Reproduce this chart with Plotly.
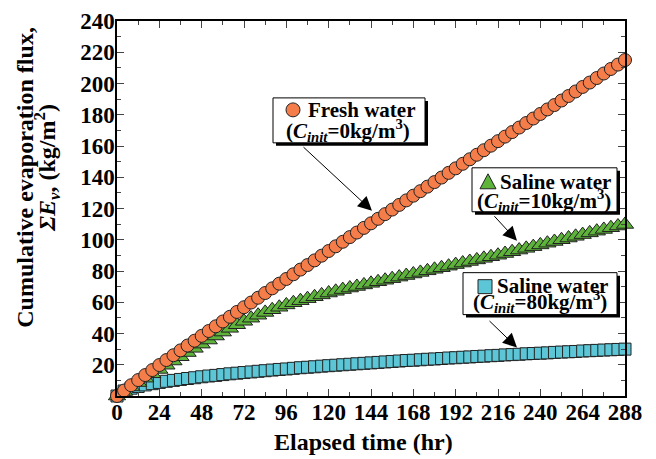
import plotly.graph_objects as go

# ---------------- data ----------------
time_hr = list(range(0, 289, 4))

fresh_water = [0, 3.5, 6.9, 10.2, 13.4, 16.6, 19.8, 23.0, 26.1, 29.2, 32.3, 35.4, 38.5,
               41.6, 44.6, 47.7, 50.7, 53.8, 56.8, 59.8, 62.9, 65.9, 68.9, 71.9, 74.9,
               77.9, 80.9, 83.8, 86.8, 89.8, 92.8, 95.8, 98.7, 101.7, 104.6, 107.6, 110.5,
               113.4, 116.4, 119.3, 122.3, 125.2, 128.2, 131.1, 134.0, 136.9, 139.8, 142.8, 145.7,
               148.6, 151.5, 154.4, 157.3, 160.2, 163.1, 166.0, 168.9, 171.8, 174.7, 177.6, 180.5,
               183.4, 186.2, 189.1, 192.0, 194.9, 197.8, 200.6, 203.5, 206.4, 209.3, 212.1, 215.0]

saline_10 = [0, 2.9, 5.8, 8.6, 11.4, 14.2, 17.0, 19.7, 22.4, 25.1, 27.8, 30.5, 33.2,
             35.8, 38.4, 40.9, 43.3, 45.6, 47.8, 49.8, 51.7, 53.5, 55.2, 56.8, 58.3,
             59.7, 61.0, 62.3, 63.5, 64.7, 65.9, 67.0, 68.1, 69.1, 70.1, 71.1, 72.1,
             73.1, 74.1, 75.1, 76.1, 77.1, 78.1, 79.1, 80.1, 81.1, 82.1, 83.1, 84.1,
             85.1, 86.1, 87.1, 88.1, 89.1, 90.1, 91.2, 92.3, 93.4, 94.5, 95.6, 96.7,
             97.8, 98.9, 100.0, 101.1, 102.2, 103.3, 104.4, 105.5, 106.6, 107.7, 108.8, 109.8]

saline_80 = [0, 3.2, 5.0, 6.1, 7.1, 7.9, 8.7, 9.4, 10.0, 10.6, 11.2, 11.7, 12.3,
             12.8, 13.2, 13.7, 14.2, 14.6, 15.0, 15.4, 15.8, 16.2, 16.6, 17.0, 17.3,
             17.7, 18.1, 18.4, 18.7, 19.1, 19.4, 19.7, 20.0, 20.3, 20.6, 20.9, 21.2,
             21.5, 21.8, 22.1, 22.4, 22.7, 22.9, 23.2, 23.5, 23.7, 24.0, 24.3, 24.5,
             24.8, 25.0, 25.3, 25.5, 25.8, 26.0, 26.3, 26.5, 26.7, 27.0, 27.2, 27.4,
             27.6, 27.9, 28.1, 28.3, 28.5, 28.8, 29.0, 29.2, 29.4, 29.6, 29.8, 30.0]

x_ticks = list(range(0, 289, 24))
y_ticks = list(range(20, 241, 20))

labels = [
    ("Fresh water", "(<i>C<sub>init</sub></i>=0kg/m<sup>3</sup>)"),
    ("Saline water", "(<i>C<sub>init</sub></i>=10kg/m<sup>3</sup>)"),
    ("Saline water", "(<i>C<sub>init</sub></i>=80kg/m<sup>3</sup>)"),
]

# ---------------- layout geometry (screen pixels) ----------------
OFF = 8                      # page body margin
W, H = 656 - OFF, 459 - OFF
L, R, T, B = 117, 625, 21, 396.5
XMAX, YMAX = 288, 240


def px2x(px):
    return (px - L) / (R - L) * XMAX


def py2y(py):
    return (B - py) / (B - T) * YMAX


def px2p(px):
    return (px - L) / (R - L)


def py2p(py):
    return (B - py) / (B - T)


ORANGE = "#F47D4A"
GREEN = "#5EB33A"
CYAN = "#5CC6D6"
EDGE = "#222222"
FONT = "Liberation Serif"

fig = go.Figure()
fig.add_trace(go.Scatter(x=time_hr, y=saline_80, mode="markers", cliponaxis=False,
                         marker=dict(symbol="square", size=12, color=CYAN,
                                     line=dict(color=EDGE, width=1))))
fig.add_trace(go.Scatter(x=time_hr, y=saline_10, mode="markers", cliponaxis=False,
                         marker=dict(symbol="triangle-up", size=15, color=GREEN,
                                     line=dict(color=EDGE, width=1))))
fig.add_trace(go.Scatter(x=time_hr, y=fresh_water, mode="markers", cliponaxis=False,
                         marker=dict(symbol="circle", size=13, color=ORANGE,
                                     line=dict(color=EDGE, width=1))))

shapes = []
annotations = []

# boxes: (x0, y0, x1, y1) pixels
boxes = [(273, 98, 425, 143), (472, 168, 617, 212), (463, 273, 617, 315)]
for (x0, y0, x1, y1) in boxes:
    shapes.append(dict(type="rect", xref="x", yref="y", layer="above",
                       x0=px2x(x0 + 3), x1=px2x(x1 + 3), y0=py2y(y0 + 3), y1=py2y(y1 + 3),
                       fillcolor="black", line=dict(width=0)))
    shapes.append(dict(type="rect", xref="x", yref="y", layer="above",
                       x0=px2x(x0), x1=px2x(x1), y0=py2y(y0), y1=py2y(y1),
                       fillcolor="white", line=dict(color="black", width=1)))

# legend glyphs
cx, cy, r = 293, 110, 7
shapes.append(dict(type="circle", xref="x", yref="y", layer="above",
                   x0=px2x(cx - r), x1=px2x(cx + r), y0=py2y(cy + r), y1=py2y(cy - r),
                   fillcolor=ORANGE, line=dict(color=EDGE, width=1)))
tx, ty = 488, 182
shapes.append(dict(type="path", xref="x", yref="y", layer="above",
                   path=f"M {px2x(tx-8)} {py2y(ty+7)} L {px2x(tx+8)} {py2y(ty+7)} L {px2x(tx)} {py2y(ty-8)} Z",
                   fillcolor=GREEN, line=dict(color=EDGE, width=1)))
sx, sy, s = 485, 287, 7
shapes.append(dict(type="rect", xref="x", yref="y", layer="above",
                   x0=px2x(sx - s), x1=px2x(sx + s), y0=py2y(sy + s), y1=py2y(sy - s),
                   fillcolor=CYAN, line=dict(color=EDGE, width=1)))

# text in boxes: (line1 left x, line1 y, line2 center x, line2 y)
text_pos = [(307, 110, 348, 131), (499, 182, 544, 201), (496, 286, 540, 302)]
for (l1, l2), (x1p, y1p, x2p, y2p) in zip(labels, text_pos):
    annotations.append(dict(text=f"<b>{l1}</b>", xref="x", yref="y", x=px2x(x1p), y=py2y(y1p),
                            xanchor="left", yanchor="middle", showarrow=False, borderpad=0,
                            font=dict(family=FONT, size=21, color="black")))
    annotations.append(dict(text=f"<b>{l2}</b>", xref="x", yref="y", x=px2x(x2p), y=py2y(y2p),
                            xanchor="center", yanchor="middle", showarrow=False, borderpad=0,
                            font=dict(family=FONT, size=21, color="black")))

# arrows: tip pixel and tail offset
arrows = [((372, 211), (-70, -65)), ((517, 241), (-24, -26)), ((517, 348), (-29, -28))]
for (tx_, ty_), (ax, ay) in arrows:
    annotations.append(dict(x=px2x(tx_), y=py2y(ty_), xref="x", yref="y", ax=ax, ay=ay,
                            text="", showarrow=True, arrowhead=2, arrowsize=2.8,
                            arrowwidth=1.0, arrowcolor="black", standoff=0))

# axis titles
annotations.append(dict(text="<b>Elapsed time (hr)</b>", xref="paper", yref="paper",
                        x=px2p(363), y=py2p(443),
                        xanchor="center", yanchor="middle", showarrow=False,
                        font=dict(family=FONT, size=24, color="black")))
annotations.append(dict(text="<b>Cumulative evaporation flux,</b>",
                        xref="paper", yref="paper", x=px2p(25), y=py2p(178), textangle=-90,
                        xanchor="center", yanchor="middle", showarrow=False,
                        font=dict(family=FONT, size=24, color="black")))
annotations.append(dict(text="<b><i>ΣE<sub>v</sub></i>, (kg/m<sup>2</sup>)</b>",
                        xref="paper", yref="paper", x=px2p(47), y=py2p(168), textangle=-90,
                        xanchor="center", yanchor="middle", showarrow=False,
                        font=dict(family=FONT, size=24, color="black")))

axis_common = dict(showgrid=False, zeroline=False, showline=True, linecolor="black",
                   linewidth=1.5, mirror="ticks", ticks="inside", ticklen=7,
                   tickcolor="#444", tickwidth=1, automargin=False,
                   tickfont=dict(family=FONT, size=23, color="black"))

fig.update_layout(
    width=W, height=H, paper_bgcolor="white", plot_bgcolor="white",
    margin=dict(l=L - OFF, r=(W + OFF) - R, t=T - OFF, b=(H + OFF) - B, autoexpand=False),
    font=dict(family=FONT),
    showlegend=False, shapes=shapes, annotations=annotations,
    xaxis=dict(range=[0, XMAX], tickmode="array", tickvals=x_ticks,
               ticktext=[f"<b>{v}</b>" for v in x_ticks],
               minor=dict(dtick=12, tick0=0, ticks="inside", ticklen=4, tickcolor="#444"),
               ticklabelstandoff=-5,
               **axis_common),
    yaxis=dict(range=[0, YMAX], tickmode="array", tickvals=y_ticks,
               ticktext=[f"<b>{v}</b>" for v in y_ticks],
               minor=dict(dtick=10, tick0=0, ticks="inside", ticklen=4, tickcolor="#444"),
               ticklabelstandoff=-4,
               **axis_common),
)

fig.write_html("out.html")
